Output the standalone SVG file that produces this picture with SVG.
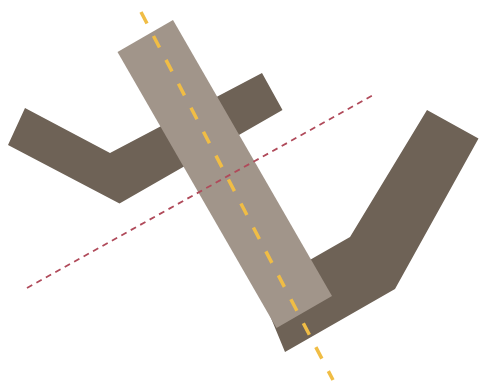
<svg xmlns="http://www.w3.org/2000/svg" width="479" height="383" viewBox="0 0 479 383">
  <style>
    .dark { fill: #6e6256; }
    .light { fill: #a1958a; }
    .axis-y { stroke: #f0bd45; stroke-width: 3.5; stroke-dasharray: 13 14; fill: none; }
    .axis-r { stroke: #b04a5a; stroke-width: 1.8; stroke-dasharray: 6 4.8; fill: none; }
  </style>
  <rect width="479" height="383" fill="#ffffff"/>
  <g id="left-bend">
    <polygon class="dark" points="25,108 110,153 262,73 282.5,110 119.5,203.5 8,145"/>
  </g>
  <g id="right-bend">
    <polygon class="dark" points="427,110 478.5,138.5 395,289 285,352 259,289 350,237"/>
  </g>
  <g id="bar">
    <polygon class="light" points="117.5,52 173,20 332,296 276.5,328"/>
  </g>
  <g id="connectors">
    <line class="axis-r" x1="27" y1="288" x2="375" y2="94"/>
    <line class="axis-y" x1="141" y1="12" x2="333" y2="380"/>
  </g>
</svg>
